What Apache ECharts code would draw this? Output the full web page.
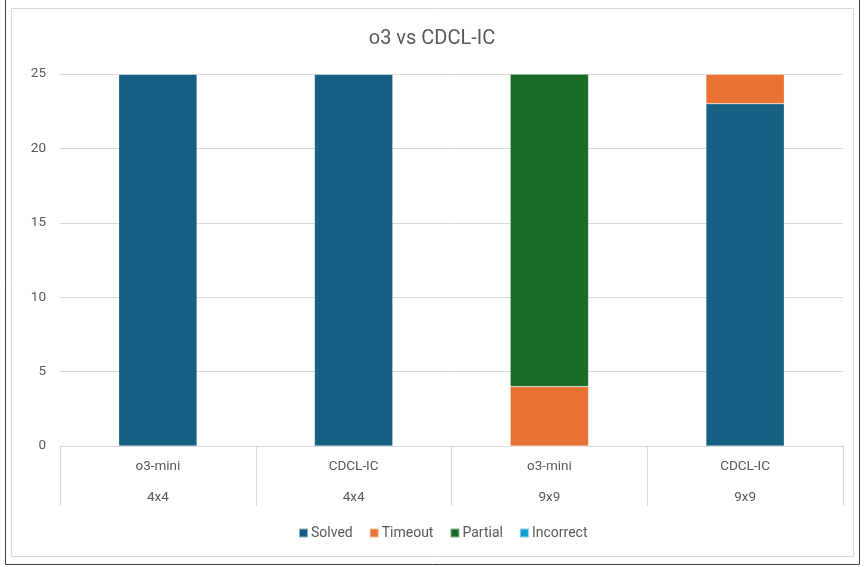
<!DOCTYPE html>
<html>
<head>
<meta charset="utf-8">
<script src="https://cdn.jsdelivr.net/npm/echarts@6/dist/echarts.min.js"></script>
<style>
  html, body { margin: 0; padding: 0; background: #fff; }
  #main { width: 864px; height: 567px; }
</style>
</head>
<body>
<div id="main"></div>
<script>
var models = ['o3-mini', 'CDCL-IC', 'o3-mini', 'CDCL-IC'];
var sizes = ['4x4', '4x4', '9x9', '9x9'];
var solved = [25, 25, 0, 23];
var timeout = [0, 0, 4, 2];
var partial = [0, 0, 21, 0];
var incorrect = [0, 0, 0, 0];
var seriesNames = ['Solved', 'Timeout', 'Partial', 'Incorrect'];
var colors = ['#156082', '#E97132', '#196B24', '#0F9ED5'];

var chart = echarts.init(document.getElementById('main'));
var fontFam = 'Roboto, "Liberation Sans", sans-serif';

var categories = models.map(function (m, i) { return m + '\n' + sizes[i]; });

function bar(name, data, i) {
  return {
    name: name,
    type: 'bar',
    stack: 'total',
    data: data,
    barCategoryGap: '60%',
    itemStyle: { color: colors[i], borderColor: 'rgba(255,255,255,0.5)', borderWidth: 0.5 }
  };
}

chart.setOption({
  animation: false,
  textStyle: { fontFamily: fontFam },
  color: colors,
  title: {
    text: 'o3 vs CDCL-IC',
    left: 'center',
    top: 24,
    textStyle: { fontSize: 20, fontWeight: 'normal', color: '#595959', fontFamily: fontFam }
  },
  legend: {
    data: seriesNames,
    bottom: 22,
    left: 293,
    itemWidth: 9,
    itemHeight: 9,
    itemGap: 16,
    icon: 'rect',
    textStyle: { fontSize: 14, color: '#595959', padding: [0, 0, 0, -2] }
  },
  grid: { left: 60, right: 21, top: 74, bottom: 121 },
  xAxis: {
    type: 'category',
    data: categories,
    axisLine: { lineStyle: { color: '#d9d9d9' } },
    axisTick: { show: true, length: 60, lineStyle: { color: '#d9d9d9' } },
    axisLabel: {
      color: '#595959',
      fontSize: 13.5,
      lineHeight: 31,
      margin: 5
    }
  },
  yAxis: {
    type: 'value',
    min: 0,
    max: 25,
    interval: 5,
    axisLine: { show: false },
    axisTick: { show: false },
    splitLine: { lineStyle: { color: '#d9d9d9' } },
    axisLabel: { color: '#595959', fontSize: 13.5, margin: 14 }
  },
  graphic: [
    {
      type: 'rect',
      shape: { x: 5.5, y: -5, width: 854, height: 569.5 },
      style: { fill: 'none', stroke: '#404040', lineWidth: 1 },
      silent: true
    },
    {
      type: 'rect',
      shape: { x: 11.5, y: 8.5, width: 842, height: 548 },
      style: { fill: 'none', stroke: '#d9d9d9', lineWidth: 1 },
      silent: true
    }
  ],
  series: [
    bar('Solved', solved, 0),
    bar('Timeout', timeout, 1),
    bar('Partial', partial, 2),
    bar('Incorrect', incorrect, 3)
  ]
});
</script>
</body>
</html>
